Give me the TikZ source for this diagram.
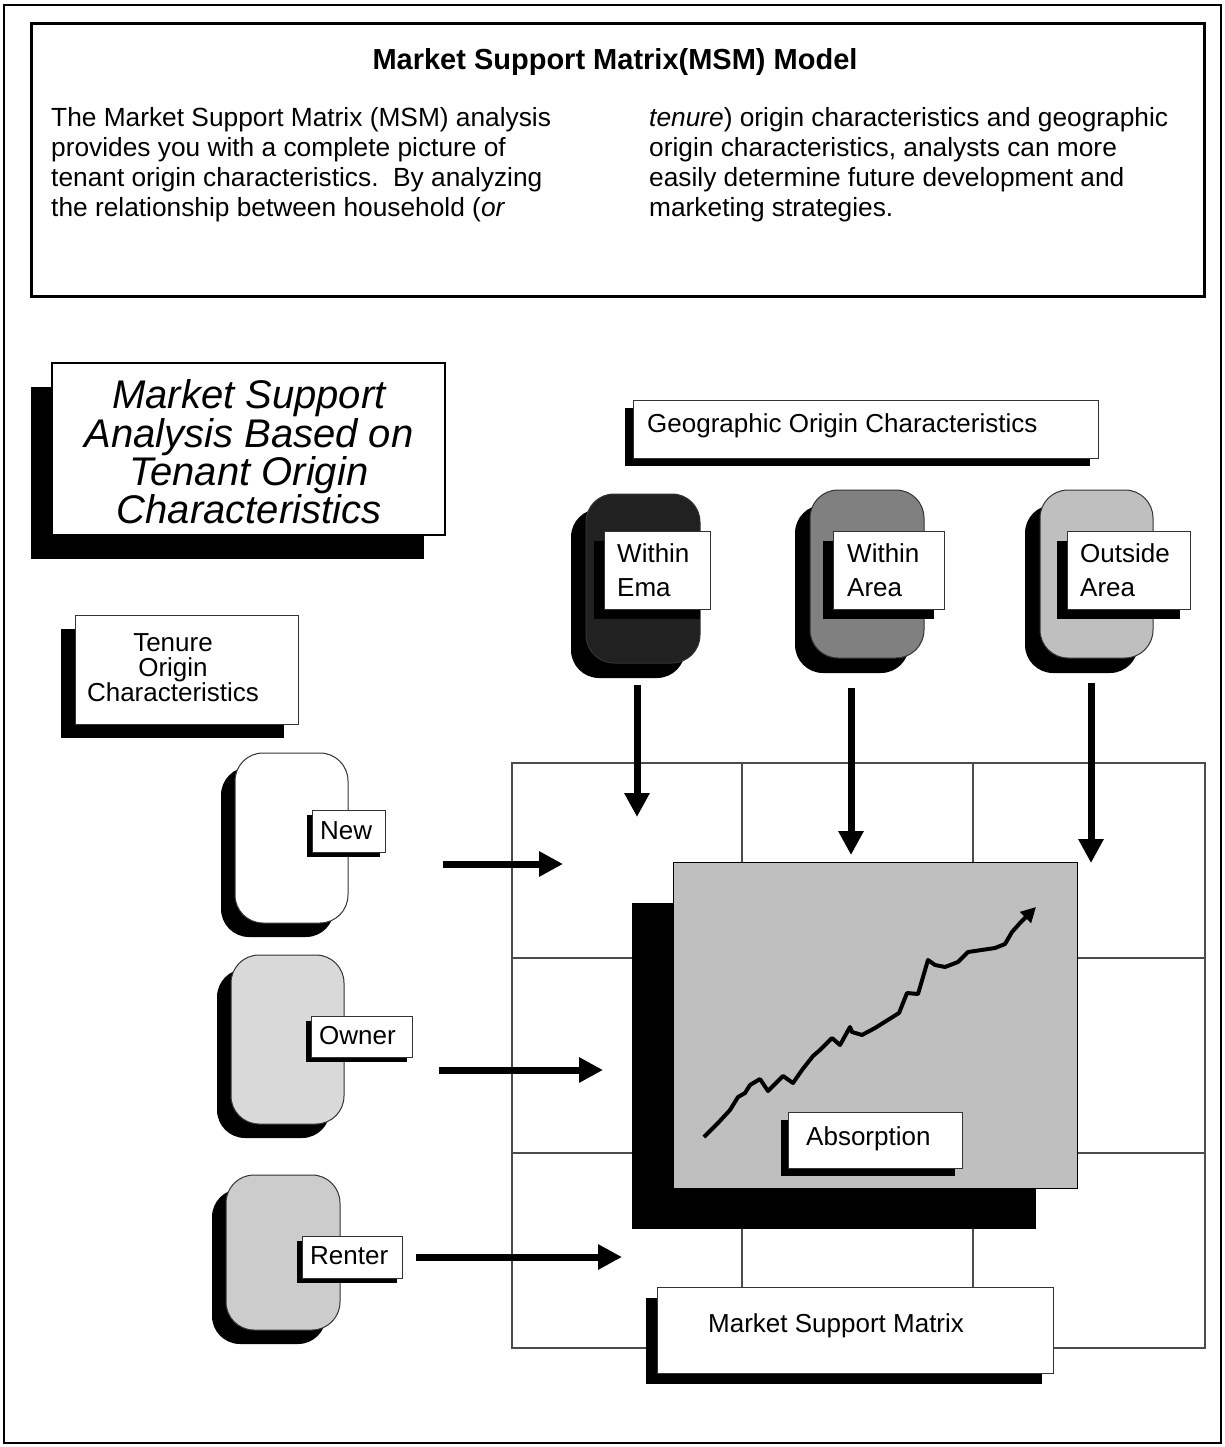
\documentclass[tikz,border=0pt]{standalone}
\usepackage{fontspec}
\setmainfont{Liberation Sans}
\usetikzlibrary{arrows.meta,shadows}
\tikzset{
  blk/.style={anchor=north west, inner sep=0pt, outer sep=0pt},
  shad/.style 2 args={drop shadow={shadow xshift=#1, shadow yshift=#2, opacity=1, fill=black}},
  lbl/.style={blk, draw=black!80, line width=1pt, fill=white},
  rbox/.style={blk, draw=black!80, line width=1pt, rounded corners=28pt},
  txt/.style={anchor=base west, inner sep=0pt, font=\fontsize{26.3}{30}\selectfont},
  ltxt/.style={anchor=west, inner sep=0pt, align=left, font=\fontsize{26}{34}\selectfont},
  bigarrow/.style={line width=7pt, -{Triangle[length=24pt,width=24pt]}},
  gridline/.style={draw=black!70, line width=1.3pt},
}
\begin{document}
\begin{tikzpicture}[x=1pt,y=-1pt]
\useasboundingbox (0,0) rectangle (1225,1447);
% outer frame and intro box
\node[blk, draw=black, line width=2pt, minimum width=1217pt, minimum height=1438pt] (outer) at (4,5) {};
\node[blk, draw=black, line width=3pt, minimum width=1173pt, minimum height=272pt] (intro) at (31,24) {};
\node[anchor=base, inner sep=0pt, font=\bfseries\fontsize{29}{32}\selectfont] (title) at (615,70) {Market Support Matrix(MSM) Model};
\node[txt] (l1) at (51,127) {The Market Support Matrix (MSM) analysis};
\node[txt] (l2) at (51,157) {provides you with a complete picture of};
\node[txt] (l3) at (51,187) {tenant origin characteristics.\ \ By analyzing};
\node[txt] (l4) at (51,217) {the relationship between household (\textit{or}};
\node[txt] (r1) at (649,127) {\textit{tenure}) origin characteristics and geographic};
\node[txt] (r2) at (649,157) {origin characteristics, analysts can more};
\node[txt] (r3) at (649,187) {easily determine future development and};
\node[txt] (r4) at (649,217) {marketing strategies.};

% left title box
\node[blk, draw=black, line width=2.5pt, fill=white, minimum width=393pt, minimum height=172pt, shad={-21pt}{-24pt}] (ttlbox) at (52,363) {};
\node[inner sep=0pt, align=center, font=\itshape\fontsize{40}{37}\selectfont] (ttl) at (249,452) {Market Support\\Analysis Based on\\Tenant Origin\\Characteristics};

% geographic header
\node[lbl, minimum width=465pt, minimum height=58pt, shad={-8pt}{-8pt}] (geo) at (633,400) {};
\node[ltxt] (geot) at (647,426) {Geographic Origin Characteristics};

% geographic rounded boxes
\node[rbox, fill=black!87, minimum width=114pt, minimum height=169pt, shad={-15pt}{-15pt}] (ema) at (586,494) {};
\node[rbox, fill=black!50, minimum width=114pt, minimum height=168pt, shad={-15pt}{-15pt}] (area) at (810,490) {};
\node[rbox, fill=black!25, minimum width=113pt, minimum height=168pt, shad={-15pt}{-15pt}] (outside) at (1040,490) {};
\node[lbl, minimum width=106pt, minimum height=78pt, shad={-10pt}{-10pt}] (emaL) at (604,531) {};
\node[ltxt] (emaT) at (617,570) {Within\\Ema};
\node[lbl, minimum width=111pt, minimum height=78pt, shad={-10pt}{-10pt}] (areaL) at (833,531) {};
\node[ltxt] (areaT) at (847,570) {Within\\Area};
\node[lbl, minimum width=123pt, minimum height=78pt, shad={-10pt}{-10pt}] (outL) at (1067,531) {};
\node[ltxt] (outT) at (1080,570) {Outside\\Area};

% tenure header
\node[lbl, minimum width=223pt, minimum height=109pt, shad={-14pt}{-14pt}] (ten) at (75,615) {};
\node[inner sep=0pt, align=center, font=\fontsize{26}{25}\selectfont] (tenT) at (173,668) {Tenure\\Origin\\Characteristics};

% tenure rounded boxes
\node[rbox, fill=white, minimum width=113pt, minimum height=170pt, shad={-14pt}{-14pt}] (new) at (235,753) {};
\node[rbox, fill=black!15, minimum width=113pt, minimum height=169pt, shad={-14pt}{-14pt}] (owner) at (231,955) {};
\node[rbox, fill=black!20, minimum width=114pt, minimum height=155pt, shad={-14pt}{-14pt}] (renter) at (226,1175) {};
\node[lbl, minimum width=73pt, minimum height=42pt, shad={-5pt}{-5pt}] (newL) at (312,810) {};
\node[ltxt] (newT) at (320,831) {New};
\node[lbl, minimum width=101pt, minimum height=41pt, shad={-5pt}{-5pt}] (ownerL) at (311,1016) {};
\node[ltxt] (ownerT) at (319,1036) {Owner};
\node[lbl, minimum width=100pt, minimum height=42pt, shad={-5pt}{-5pt}] (renterL) at (302,1236) {};
\node[ltxt] (renterT) at (310,1256) {Renter};

% matrix
\node[blk, gridline, minimum width=693pt, minimum height=585pt] (msm) at (512,763) {};
\coordinate (c1t) at (742,763); \coordinate (c1b) at (742,1348);
\coordinate (c2t) at (973,763); \coordinate (c2b) at (973,1348);
\coordinate (r1l) at (512,958); \coordinate (r1r) at (1205,958);
\coordinate (r2l) at (512,1153); \coordinate (r2r) at (1205,1153);
\draw[gridline] (c1t) -- (c1b);
\draw[gridline] (c2t) -- (c2b);
\draw[gridline] (r1l) -- (r1r);
\draw[gridline] (r2l) -- (r2r);

% arrows
\coordinate (a1s) at (637,685); \coordinate (a1e) at (637,817);
\coordinate (a2s) at (851,688); \coordinate (a2e) at (851,855);
\coordinate (a3s) at (1091,683); \coordinate (a3e) at (1091,863);
\coordinate (h1s) at (443,864); \coordinate (h1e) at (563,864);
\coordinate (h2s) at (439,1070); \coordinate (h2e) at (603,1070);
\coordinate (h3s) at (416,1257); \coordinate (h3e) at (622,1257);
\draw[bigarrow] (a1s) -- (a1e);
\draw[bigarrow] (a2s) -- (a2e);
\draw[bigarrow] (a3s) -- (a3e);
\draw[bigarrow] (h1s) -- (h1e);
\draw[bigarrow] (h2s) -- (h2e);
\draw[bigarrow] (h3s) -- (h3e);

% chart
\node[blk, draw=black, line width=1pt, fill=black!25, minimum width=404pt, minimum height=326pt, shad={-41pt}{-41pt}] (chart) at (673,862) {};
\draw[line width=4pt, line join=round, -{Triangle[length=15pt,width=15pt]}]
 (704,1137) -- (718,1123) -- (730,1110) -- (738,1097) -- (745,1093) -- (750,1085) -- (760,1079) -- (768,1091) -- (783,1076) -- (793,1083) -- (802,1070) -- (813,1056) -- (820,1050) -- (832,1038) -- (840,1045) -- (850,1027) -- (852,1032) -- (862,1035) -- (875,1028) -- (899,1013) -- (907,993) -- (918,994) -- (928,960) -- (935,965) -- (945,967) -- (958,962) -- (968,952) -- (995,948) -- (1005,944) -- (1012,932) -- (1020,923) -- (1036,907);
\node[lbl, minimum width=174pt, minimum height=56pt, shad={-7pt}{-8pt}] (absL) at (788,1112) {};
\node[ltxt] (absT) at (806,1139) {Absorption};

% matrix label
\node[lbl, minimum width=396pt, minimum height=86pt, shad={-11pt}{-11pt}] (msmL) at (657,1287) {};
\node[ltxt] (msmT) at (708,1326) {Market Support Matrix};
\end{tikzpicture}
\end{document}
